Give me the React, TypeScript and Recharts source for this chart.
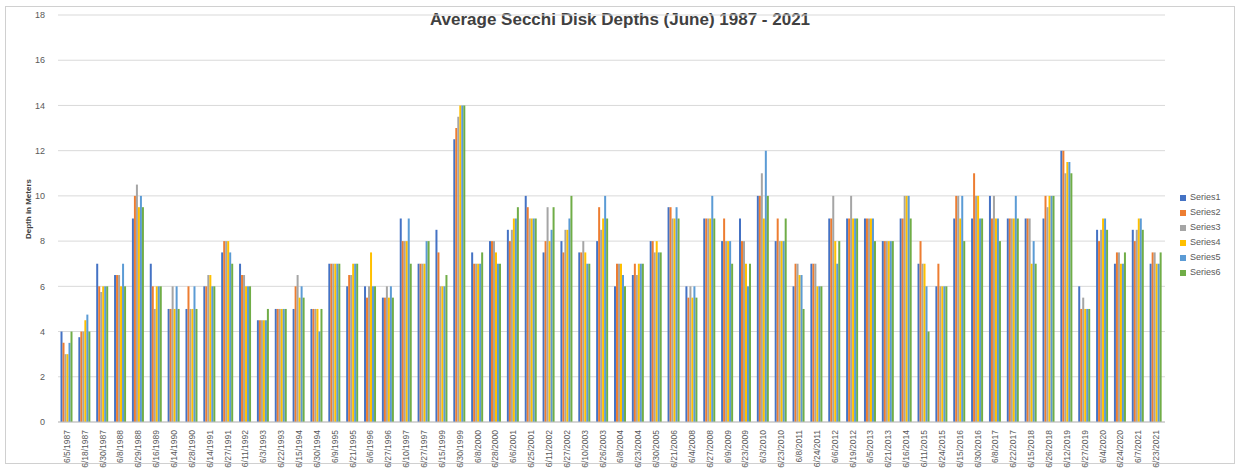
import { Bar, BarChart, CartesianGrid, Legend, XAxis, YAxis } from "recharts";

const dates = [
  "6/5/1987", "6/18/1987", "6/30/1987", "6/8/1988", "6/29/1988", "6/16/1989",
  "6/14/1990", "6/28/1990", "6/14/1991", "6/27/1991", "6/11/1992", "6/3/1993",
  "6/22/1993", "6/15/1994", "6/30/1994", "6/9/1995", "6/21/1995", "6/6/1996",
  "6/27/1996", "6/10/1997", "6/27/1997", "6/15/1999", "6/30/1999", "6/8/2000",
  "6/28/2000", "6/6/2001", "6/25/2001", "6/11/2002", "6/27/2002", "6/10/2003",
  "6/26/2003", "6/8/2004", "6/23/2004", "6/30/2005", "6/21/2006", "6/4/2008",
  "6/27/2008", "6/9/2009", "6/23/2009", "6/3/2010", "6/23/2010", "6/8/2011",
  "6/24/2011", "6/6/2012", "6/19/2012", "6/5/2013", "6/21/2013", "6/16/2014",
  "6/11/2015", "6/24/2015", "6/15/2016", "6/30/2016", "6/8/2017", "6/22/2017",
  "6/15/2018", "6/26/2018", "6/12/2019", "6/27/2019", "6/4/2020", "6/24/2020",
  "6/7/2021", "6/23/2021",
];

const series1 = [
  4, 3.75, 7, 6.5, 9, 7, 5, 5, 6, 7.5, 7, 4.5, 5, 5, 5, 7, 6, 6, 5.5, 9, 7,
  8.5, 12.5, 7.5, 8, 8.5, 10, 7.5, 8, 7.5, 8, 6, 6.5, 8, 9.5, 6, 9, 8, 9, 10,
  8, 6, 7, 9, 9, 9, 8, 9, 7, 6, 9, 9, 10, 9, 9, 9, 12, 6, 8.5, 7, 8.5, 7,
];
const series2 = [
  3.5, 4, 6, 6.5, 10, 6, 5, 6, 6, 8, 6.5, 4.5, 5, 6, 5, 7, 6.5, 5.5, 5.5, 8, 7,
  7.5, 13, 7, 8, 8, 9.5, 8, 7.5, 7.5, 9.5, 7, 7, 8, 9.5, 5.5, 9, 9, 8, 10,
  9, 7, 7, 9, 9, 9, 8, 9, 8, 7, 10, 11, 9, 9, 9, 10, 12, 5, 8, 7.5, 8, 7.5,
];
const series3 = [
  3, 4, 5.75, 6.5, 10.5, 5, 6, 5, 6.5, 8, 6.5, 4.5, 5, 6.5, 5, 7, 6.5, 6, 6, 8, 7,
  6, 13.5, 7, 8, 8.5, 9, 9.5, 8.5, 8, 8.5, 7, 6.5, 7.5, 9, 6, 9, 8, 8, 11,
  8, 7, 7, 10, 10, 9, 8, 10, 7, 6, 10, 10, 10, 9, 9, 9.5, 11, 5.5, 8.5, 7.5, 8.5, 7.5,
];
const series4 = [
  3, 4.5, 6, 6, 9.5, 6, 5, 5, 6.5, 8, 6, 4.5, 5, 5.5, 5, 7, 7, 7.5, 5.5, 8, 7,
  6, 14, 7, 7.5, 9, 9, 8, 8.5, 7.5, 9, 7, 7, 8, 9, 5.5, 9, 8, 7, 9,
  8, 6.5, 6, 8, 9, 9, 8, 10, 7, 6, 9, 10, 9, 9, 7, 10, 11.5, 5, 9, 7, 9, 7,
];
const series5 = [
  3.5, 4.75, 6, 7, 10, 6, 6, 6, 6, 7.5, 6, 4.5, 5, 6, 4, 7, 7, 6, 6, 9, 8,
  6, 14, 7, 7, 9, 9, 8.5, 9, 7, 10, 6.5, 7, 7.5, 9.5, 6, 10, 8, 6, 12,
  8, 6.5, 6, 7, 9, 9, 8, 10, 6, 6, 10, 9, 9, 10, 8, 10, 11.5, 5, 9, 7, 9, 7,
];
const series6 = [
  4, 4, 6, 6, 9.5, 6, 5, 5, 6, 7, 6, 5, 5, 5.5, 5, 7, 7, 6, 5.5, 7, 8,
  6.5, 14, 7.5, 7, 9.5, 9, 9.5, 10, 7, 9, 6, 7, 7.5, 9, 5.5, 9, 7, 7, 10,
  9, 5, 6, 8, 9, 8, 8, 9, 4, 6, 8, 9, 8, 9, 7, 10, 11, 5, 8.5, 7.5, 8.5, 7.5,
];

const yTicks = [0, 2, 4, 6, 8, 10, 12, 14, 16, 18];

const seriesNames = ["Series1", "Series2", "Series3", "Series4", "Series5", "Series6"];
const seriesValues = [series1, series2, series3, series4, series5, series6];
const colors = ["#4472C4", "#ED7D31", "#A5A5A5", "#FFC000", "#5B9BD5", "#70AD47"];

const data = dates.map((d, i) => {
  const row: Record<string, string | number> = { date: d };
  seriesNames.forEach((s, k) => {
    row[s] = seriesValues[k][i];
  });
  return row;
});

const font = "'Liberation Sans', Arial, sans-serif";

const DateTick = (props: any) => {
  const { x, y, payload } = props;
  return (
    <text
      x={x}
      y={y}
      transform={`rotate(-90 ${x} ${y})`}
      textAnchor="end"
      dominantBaseline="central"
      fontSize={8.5}
      fill="#595959"
      fontFamily={font}
    >
      {payload.value}
    </text>
  );
};

const App = () => {
  return (
    <div
      style={{
        position: "absolute",
        left: 0,
        top: 0,
        width: 1240,
        height: 468,
        background: "#fff",
        fontFamily: font,
      }}
    >
      <div
        style={{
          position: "absolute",
          left: 5,
          top: 6,
          width: 1230,
          height: 458,
          border: "1px solid #d0d0d0",
          boxSizing: "border-box",
        }}
      />
      <div
        style={{
          position: "absolute",
          left: 0,
          width: 1240,
          top: 10,
          textAlign: "center",
          fontSize: 17,
          fontWeight: "bold",
          color: "#404040",
        }}
      >
        Average Secchi Disk Depths (June) 1987 - 2021
      </div>
      <div
        style={{
          position: "absolute",
          left: 28,
          top: 209,
          transform: "translate(-50%, -50%) rotate(-90deg)",
          fontSize: 8,
          fontWeight: "bold",
          color: "#404040",
          whiteSpace: "nowrap",
        }}
      >
        Depth in Meters
      </div>
      <div style={{ position: "absolute", left: 0, top: 0 }}>
        <BarChart
          width={1240}
          height={468}
          data={data}
          margin={{ top: 15, right: 15, left: 0, bottom: 0 }}
          barCategoryGap="14%"
          barGap={0}
        >
          <CartesianGrid vertical={false} stroke="#d9d9d9" />
          <XAxis
            dataKey="date"
            interval={0}
            height={46}
            tick={<DateTick />}
            tickLine={false}
            axisLine={{ stroke: "#bfbfbf" }}
          />
          <YAxis
            width={58}
            domain={[0, 18]}
            ticks={yTicks}
            interval={0}
            tickLine={false}
            axisLine={false}
            tickMargin={7}
            tick={{ fontSize: 9, fill: "#595959", fontFamily: font }}
          />
          <Legend
            layout="vertical"
            align="right"
            verticalAlign="top"
            iconType="square"
            iconSize={6}
            wrapperStyle={{
              left: 1180,
              top: 190,
              width: 60,
              fontSize: 9,
              lineHeight: "15px",
              fontFamily: font,
            }}
            formatter={(value) => <span style={{ color: "#595959" }}>{value}</span>}
          />
          {seriesNames.map((s, k) => (
            <Bar key={s} dataKey={s} fill={colors[k]} isAnimationActive={false} />
          ))}
        </BarChart>
      </div>
    </div>
  );
};

export default App;
